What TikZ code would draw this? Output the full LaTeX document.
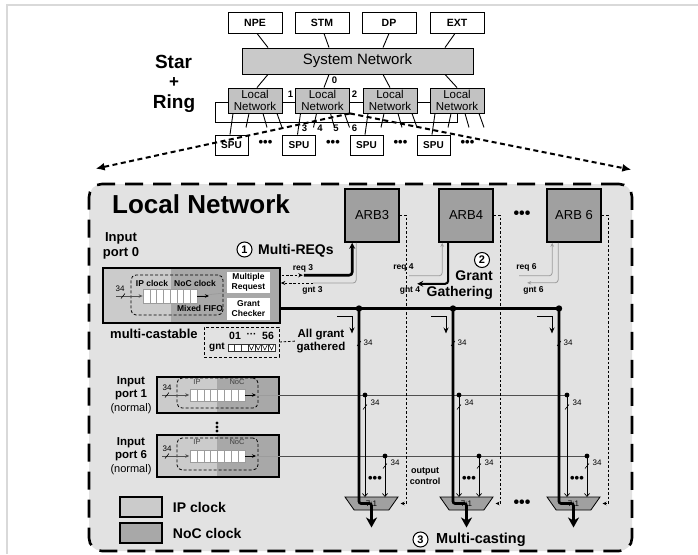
\documentclass[tikz,border=0pt]{standalone}
\usepackage{fontspec}
\setmainfont{Liberation Sans}
\usetikzlibrary{arrows.meta,positioning,calc,backgrounds,shapes.geometric}

\definecolor{ipgray}{HTML}{CBCBCB}
\definecolor{nocgray}{HTML}{A8A8A8}
\definecolor{arbgray}{HTML}{A0A0A0}
\definecolor{sysgray}{HTML}{C9C9C9}
\definecolor{lngray}{HTML}{C2C2C2}
\definecolor{areagray}{HTML}{E2E2E2}
\definecolor{framegray}{HTML}{D9D9D9}
\definecolor{wiregray}{HTML}{505050}
\definecolor{softgray}{HTML}{9C9C9C}

\newcommand{\fsz}[2]{\fontsize{#1}{#2}\selectfont}

\begin{document}
\begin{tikzpicture}[
  x=1pt, y=-1pt,
  topbox/.style={
    draw,
    line width=0.9pt,
    fill=white,
    minimum width=54pt,
    minimum height=21pt,
    inner sep=0pt,
    font=\bfseries\fsz{10.5}{12}
  },
  sysbox/.style={
    draw,
    line width=0.9pt,
    fill=sysgray,
    minimum width=231pt,
    minimum height=26pt,
    inner sep=0pt,
    font=\fsz{15}{17}
  },
  lnbox/.style={
    draw,
    line width=0.9pt,
    fill=lngray,
    minimum width=54pt,
    minimum height=25pt,
    inner sep=0pt,
    align=center,
    font=\fsz{11.5}{12.5}
  },
  spubox/.style={
    draw,
    line width=0.9pt,
    fill=white,
    minimum width=33pt,
    minimum height=20pt,
    inner sep=0pt,
    font=\bfseries\fsz{10}{12}
  },
  spoke/.style={line width=0.9pt},
  zoomflow/.style={
    line width=2pt,
    dash pattern=on 5pt off 3.5pt,
    -{Latex[length=9pt,width=8pt]}
  },
  area/.style={
    draw,
    fill=areagray,
    line width=2.6pt,
    dash pattern=on 18pt off 10pt,
    rounded corners=13pt
  },
  arb/.style={
    draw,
    line width=1.6pt,
    fill=arbgray,
    minimum width=54pt,
    minimum height=53pt,
    inner sep=0pt,
    font=\fsz{13}{15}
  },
  port/.style={
    draw,
    line width=1.6pt,
    fill=nocgray,
    inner sep=0pt,
    path picture={
      \fill[ipgray] (path picture bounding box.north west) rectangle
        ($(path picture bounding box.south west)!#1!(path picture bounding box.south east)$);
    }
  },
  mixbox/.style={
    draw,
    line width=0.8pt,
    dash pattern=on 3pt off 2pt,
    rounded corners=5pt,
    inner sep=0pt
  },
  cell/.style={fill=white, draw=softgray, line width=0.4pt},
  chk/.style={
    fill=white,
    minimum width=43pt,
    inner sep=0pt,
    align=center,
    font=\bfseries\fsz{8.5}{10}
  },
  mux/.style={
    draw,
    line width=0.8pt,
    fill=arbgray,
    trapezium,
    shape border rotate=180,
    trapezium angle=62,
    trapezium stretches=true,
    minimum width=53pt,
    minimum height=13pt,
    inner sep=0pt,
    font=\fsz{8}{9}
  },
  starlbl/.style={inner sep=0pt, font=\bfseries\fsz{19}{21}},
  titlelbl/.style={inner sep=0pt, font=\bfseries\fsz{26}{28}},
  head/.style={inner sep=0pt, align=center, font=\bfseries\fsz{14}{16}},
  note/.style={inner sep=0pt, align=center, font=\bfseries\fsz{11.5}{13.5}},
  lbl/.style={inner sep=0pt, align=center, font=\bfseries\fsz{8.5}{10}},
  numlbl/.style={inner sep=0pt, font=\bfseries\fsz{9.5}{10}},
  clklbl/.style={inner sep=0pt, font=\fsz{7.5}{8}, text=black!75},
  bitlbl/.style={inner sep=0pt, font=\fsz{8}{9}},
  circnum/.style={
    circle,
    draw,
    line width=1pt,
    fill=white,
    inner sep=0pt,
    minimum size=15pt,
    font=\bfseries\fsz{11}{12}
  },
  ellip/.style={inner sep=0pt, font=\bfseries\fsz{13}{14}},
  ellipbig/.style={inner sep=0pt, font=\bfseries\fsz{16}{17}},
  slash/.style={line width=0.6pt},
  inarrow/.style={wiregray, line width=0.7pt, -{Stealth[length=4pt,width=3.5pt]}},
  reqflow/.style={
    line width=0.8pt,
    dash pattern=on 2.5pt off 1.8pt,
    -{Stealth[length=4.5pt,width=4pt]}
  },
  soft/.style={softgray, line width=0.8pt},
  softflow/.style={soft, -{Stealth[length=4pt,width=3.5pt]}},
  bus/.style={line width=2.6pt},
  busflow/.style={bus, rounded corners=3pt, -{Stealth[length=6pt,width=6pt]}},
  gntflow/.style={line width=1pt, -{Stealth[length=6pt,width=5pt]}},
  outflow/.style={
    bus,
    rounded corners=2pt,
    -{Stealth[length=10pt,width=11pt,inset=3pt]}
  },
  drop/.style={line width=0.7pt, -{Straight Barb[length=3pt,width=5pt]}},
  rowwire/.style={wiregray, line width=1pt},
  ctrlflow/.style={
    line width=0.7pt,
    dash pattern=on 2.5pt off 2pt,
    -{Stealth[length=4pt,width=3.5pt]}
  },
  legbox/.style={
    draw,
    line width=1.5pt,
    minimum width=42pt,
    minimum height=20pt,
    inner sep=0pt
  },
  legtxt/.style={inner sep=0pt, font=\bfseries\fsz{14}{16}}
]

\useasboundingbox (0,0) rectangle (698,554);
\draw[framegray, line width=2.5pt] (7,554) -- (7,5) -- (698,5);

% ---- star + ring overview
\node[topbox] (npe) at (255,22.5) {NPE};
\node[topbox] (stm) at (322,22.5) {STM};
\node[topbox] (dp) at (389,22.5) {DP};
\node[topbox] (ext) at (457,22.5) {EXT};

\node[sysbox] (sysnet) at (357.5,61) {System Network};

\node[starlbl, anchor=base] (star) at (173.5,68) {Star};
\node[starlbl, font=\bfseries\fsz{17}{19}] (plus) at (174,82.5) {+};
\node[starlbl, anchor=base] (ring) at (174,108) {Ring};

\draw[spoke] (215,102) rectangle (457,122);

\node[lnbox] (ln1) at (255,100.5) {Local\\Network};
\node[lnbox] (ln2) at (322.5,100.5) {Local\\Network};
\node[lnbox] (ln3) at (390,100.5) {Local\\Network};
\node[lnbox] (ln4) at (457,100.5) {Local\\Network};

\draw[spoke] ($(npe.south)+(2,0)$) -- ($(npe.south |- sysnet.north)+(13,0)$);
\draw[spoke] ($(stm.south)+(2,0)$) -- ($(stm.south |- sysnet.north)+(7,0)$);
\draw[spoke] (dp.south) -- ($(dp.south |- sysnet.north)+(-6,0)$);
\draw[spoke] ($(ext.south)+(-2,0)$) -- ($(ext.south |- sysnet.north)+(-12,0)$);

\draw[spoke] ($(ln1.north |- sysnet.south)+(13,0)$) -- ($(ln1.north)+(2,0)$);
\draw[spoke] ($(ln2.north |- sysnet.south)+(6.5,0)$) -- ($(ln2.north)+(1.5,0)$);
\draw[spoke] ($(ln3.north |- sysnet.south)+(-7,0)$) -- (ln3.north);
\draw[spoke] ($(ln4.north |- sysnet.south)+(-12,0)$) -- (ln4.north);

\node[numlbl] (lbl0) at (334.5,80) {0};
\node[numlbl] (lbl1) at (290.5,94) {1};
\node[numlbl] (lbl2) at (354.5,94) {2};

\node[spubox] (spu1) at (231.5,145) {SPU};
\node[spubox] (spu2) at (299,145) {SPU};
\node[spubox] (spu3) at (366.5,145) {SPU};
\node[spubox] (spu4) at (433.5,145) {SPU};

\foreach \b/\s in {ln1/spu1, ln2/spu2, ln3/spu3, ln4/spu4} {
  \draw[spoke] ($(\b.south)+(-22,0)$) -- ($(\s.north)+(-1.5,0)$);
  \draw[spoke] ($(\b.south)+(-6,0)$) -- ++(-3,14);
  \draw[spoke] ($(\b.south)+(8,0)$) -- ++(4,14);
  \draw[spoke] ($(\b.south)+(22,0)$) -- ++(5,14);
}

\node[numlbl] (lbl3) at (304.5,128.5) {3};
\node[numlbl] (lbl4) at (320,128.5) {4};
\node[numlbl] (lbl5) at (336,128.5) {5};
\node[numlbl] (lbl6) at (354.5,128.5) {6};

\node[ellip, right=10pt of spu1, yshift=2pt] (sdots1) {•••};
\node[ellip, right=10pt of spu2, yshift=2pt] (sdots2) {•••};
\node[ellip, right=10pt of spu3, yshift=2pt] (sdots3) {•••};
\node[ellip, right=10pt of spu4, yshift=2pt] (sdots4) {•••};

% ---- local network detail
\node[area, minimum width=543pt, minimum height=367pt] (lnet) at (360.5,367.5) {};

\coordinate (zsrc) at (ln2.south east);
\draw[zoomflow] (zsrc) -- ($(lnet.north west)+(8,-14)$);
\draw[zoomflow] (zsrc) -- ($(lnet.north east)+(-2,-13)$);

\node[titlelbl, anchor=base west] (title) at (112,213) {Local Network};

\node[arb] (arb3) at (372,215.5) {ARB3};
\node[arb] (arb4) at (466,215.5) {ARB4};
\node[arb] (arb6) at (574,215.5) {ARB 6};
\node[ellipbig] (adots) at (522,215) {•••};

% input port 0
\node[note, font=\bfseries\fsz{13}{15}] (in0lbl) at (121,246) {Input\\port 0};
\node[port=0.384, minimum width=177pt, minimum height=55pt] (port0) at (191.5,295.5) {};
\node[mixbox, minimum width=92pt, minimum height=40pt] (mix0) at (177,295) {};
\foreach \i in {0,...,7}
  \draw[cell] (143+\i*6.75,289) rectangle ++(6.75,14);
\node[chk, minimum height=21pt] (mreq) at (248.5,282) {Multiple\\Request};
\node[chk, minimum height=22pt] (gchk) at (248.5,308.5) {Grant\\Checker};
\node[lbl] (ipclk0) at (152,283) {IP clock};
\node[lbl] (nocclk0) at (195,283) {NoC clock};
\node[lbl] (mixlbl) at (200,308) {Mixed FIFO};
\draw[inarrow] ($(port0.west)+(14,0.5)$) -- ($(mix0.west)+(12,1)$);
\draw[slash] (121,298.5) -- (125,293.5);
\node[bitlbl] (w0) at (120,288.5) {34};
\draw[soft] (197,296) -- (mreq.south west);
\draw[inarrow, black] (197,296) -- (209,296);

\node[inner sep=0pt, font=\bfseries\fsz{13}{15}, anchor=base west] (mcast) at (110,338) {multi-castable};

\node[circnum] (c1) at (244.5,249.5) {1};
\node[head, anchor=base west] (mreqlbl) at (258,254) {Multi-REQs};

% grant vector
\node[mixbox, rounded corners=0pt, minimum width=75pt, minimum height=30pt] (gntv) at (241.5,342) {};
\node[inner sep=0pt, font=\bfseries\fsz{10}{11}] (gntt) at (217,347.5) {gnt};
\node[inner sep=0pt, font=\bfseries\fsz{10.5}{11}] (gnt0) at (235,335.5) {01};
\node[inner sep=0pt, font=\bfseries\fsz{10}{11}] (gntd) at (251.5,335.5) {···};
\node[inner sep=0pt, font=\bfseries\fsz{10.5}{11}] (gnt5) at (268,335.5) {56};
\foreach \i in {0,...,6}
  \draw[cell, draw=black!80, line width=0.5pt] ($(gntv.center)+(-13.5+\i*6.7,2)$) rectangle ++(6.7,7.5);
\foreach \i in {3,...,6}
  \draw[line width=0.5pt] ($(gntv.center)+(-12.5+\i*6.7,3)$) -- ++(2.35,5) -- ++(2.35,-5);
\node[note] (agg) at (321,341) {All grant\\gathered};
\draw[reqflow, -] (gntv.east) -- (agg.west);

% requests and grants
\draw[reqflow] ($(port0.north east)+(1,8)$) -- ++(21,0);
\node[lbl] (req3) at (303,268) {req 3};
\draw[busflow] ($(port0.north east)+(23,8)$) -| ($(arb3.south west)+(8,0)$);
\draw[soft, rounded corners=3pt] ($(arb3.south west)+(12,0)$) |- (313,283) coordinate (gnt3s);
\draw[reqflow] (gnt3s) -- (gnt3s -| port0.east);
\node[lbl] (gnt3) at (312.5,290) {gnt 3};

\draw[softflow, rounded corners=3pt] ($(arb4.south west)+(-29,33)$) -| ($(arb4.south west)+(4,0)$);
\draw[busflow, line width=2pt] ($(arb4.south west)+(10,0)$) |- ++(-31,41);
\node[lbl] (req4) at (403.5,267.5) {req 4};
\node[lbl] (gnt4) at (410,290) {gnt 4};

\draw[softflow, rounded corners=3pt] ($(arb6.south west)+(-27,33)$) -| ($(arb6.south west)+(6,0)$);
\draw[softflow, rounded corners=3pt] ($(arb6.south west)+(12,0)$) |- ++(-31,40);
\node[lbl] (req6) at (526.5,267.5) {req 6};
\node[lbl] (gnt6) at (533.5,290) {gnt 6};

\node[circnum] (c2) at (482,260) {2};
\node[head, align=right, anchor=east] (gglbl) at (493,285) {Grant\\Gathering};

% input ports 1 and 6
\node[note] (in1lbl) at (131,395) {Input\\port 1\\{\mdseries\fsz{11}{13.5}(normal)}};
\node[port=0.49, minimum width=122pt, minimum height=36pt] (port1) at (218,395) {};
\node[mixbox, minimum width=81pt, minimum height=30pt] (mix1) at (217.5,393) {};
\foreach \i in {0,...,7}
  \draw[cell] (190+\i*6.875,389) rectangle ++(6.875,12);
\node[clklbl] (ip1) at (197,382) {IP};
\node[clklbl] (noc1) at (237,382) {NoC};
\draw[inarrow] ($(port1.west)+(6,0)$) -- ($(port1.west)+(33,0)$);
\draw[slash] (165,397.5) -- (169,392.5);
\node[bitlbl] (w1) at (167,388) {34};
\draw[soft] (245,395) -- (port1.east);
\draw[inarrow, black] (245,395) -- (256,395);

\node[inner sep=0pt] (vd) at (217,427) {};
\fill (vd) ++(0,-4) circle (1.6) (vd) circle (1.6) (vd) ++(0,4) circle (1.6);

\node[note] (in6lbl) at (131,456) {Input\\port 6\\{\mdseries\fsz{11}{13.5}(normal)}};
\node[port=0.49, minimum width=122pt, minimum height=42pt] (port6) at (218,456) {};
\node[mixbox, minimum width=81pt, minimum height=32pt] (mix6) at (217.5,454) {};
\foreach \i in {0,...,7}
  \draw[cell] (190+\i*6.875,450) rectangle ++(6.875,12.5);
\node[clklbl] (ip6) at (197,442) {IP};
\node[clklbl] (noc6) at (237,442) {NoC};
\draw[inarrow] ($(port6.west)+(6,0)$) -- ($(port6.west)+(33,0)$);
\draw[slash] (165,458.5) -- (169,453.5);
\node[bitlbl] (w6) at (167,449) {34};
\draw[soft] (245,456) -- (port6.east);
\draw[inarrow, black] (245,456) -- (256,456);

% output muxes
\node[mux] (mux1) at (371.5,503.5) {7:1};
\node[mux] (mux2) at (466.5,503.5) {7:1};
\node[mux] (mux3) at (573.5,503.5) {7:1};
\node[ellipbig] (mdots) at (522,503.5) {•••};

\coordinate (tap1) at (359,308.5);
\coordinate (tap2) at (453,308.5);
\coordinate (tap3) at (559,308.5);
\coordinate (r1a) at (365,395);
\coordinate (r1b) at (459,395);
\coordinate (r1c) at (567,395);
\coordinate (r6a) at (385,456);
\coordinate (r6b) at (479,456);
\coordinate (r6c) at (587,456);

\draw[rowwire] (port1.east) -- (r1c);
\draw[rowwire] (port6.east) -- (r6c);

\draw[ctrlflow] (arb3.east) -- ++(7,0) |- ($(mux1.center)+(29,0)$);
\draw[ctrlflow] (arb4.east) -- ++(7,0) |- ($(mux2.center)+(29,0)$);
\draw[ctrlflow] (arb6.east) -- ++(7,0) |- ($(mux3.center)+(29,0)$);
\node[lbl, font=\bfseries\fsz{9}{10.5}] (octl) at (425,476) {output\\control};

\foreach \r/\m in {r1a/mux1, r1b/mux2, r1c/mux3} {
  \fill (\r) circle (2.4);
  \draw[drop] (\r) -- ($(\r |- \m.center)+(0,-6.5)$);
  \draw[slash] ($(\r)+(-2,14.5)$) -- ++(4,-5);
  \node[bitlbl] at ($(\r)+(10,8)$) {34};
}
\foreach \r/\m in {r6a/mux1, r6b/mux2, r6c/mux3} {
  \fill (\r) circle (2.4);
  \draw[drop] (\r) -- ($(\r |- \m.center)+(0,-6.5)$);
  \draw[slash] ($(\r)+(-2,12.5)$) -- ++(4,-5);
  \node[bitlbl] at ($(\r)+(10,7)$) {34};
  \node[ellip] at ($(\r)+(-10,23)$) {•••};
}

\draw[bus] (port0.east |- gchk.east) -- (tap3);
\foreach \t/\m in {tap1/mux1, tap2/mux2, tap3/mux3} {
  \fill (\t) circle (3.2);
  \draw[outflow] (\t) |- (\m.center) -- ++(0,24);
  \draw[gntflow] ($(\t)+(-22,7.5)$) -| ($(\t)+(-7,25)$);
  \draw[slash] ($(\t)+(-2,37.5)$) -- ++(4,-5);
  \node[bitlbl] at ($(\t)+(9,34.5)$) {34};
}

\node[circnum] (c3) at (420.5,539.5) {3};
\node[head, font=\bfseries\fsz{14.5}{16}, anchor=west] (mcastlbl) at (436,539.5) {Multi-casting};

% legend
\node[legbox, fill=ipgray] (legip) at (141,507) {};
\node[legtxt, right=10pt of legip] (legiptxt) {IP clock};
\node[legbox, fill=nocgray] (legnoc) at (141,533) {};
\node[legtxt, right=10pt of legnoc] (legnoctxt) {NoC clock};

\end{tikzpicture}
\end{document}
